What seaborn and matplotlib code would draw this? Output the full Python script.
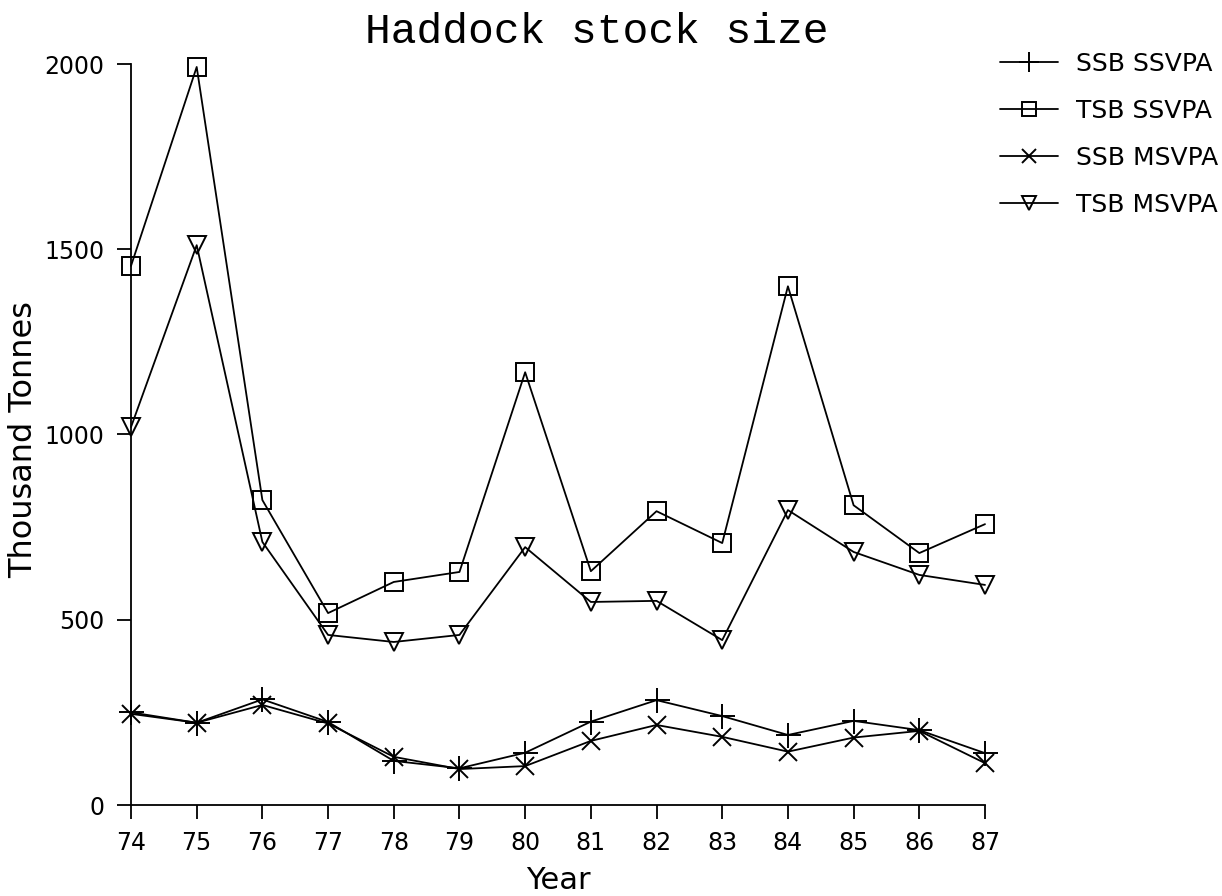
import matplotlib
matplotlib.use("Agg")
import matplotlib.pyplot as plt
import seaborn as sns
import pandas as pd

years = [74, 75, 76, 77, 78, 79, 80, 81, 82, 83, 84, 85, 86, 87]
ssb_ssvpa = [250, 222, 285, 224, 119, 99, 141, 225, 283, 240, 189, 227, 202, 140]
tsb_ssvpa = [1455, 1992, 823, 518, 602, 629, 1168, 631, 793, 707, 1400, 809, 680, 758]
ssb_msvpa = [246, 222, 270, 220, 130, 97, 105, 173, 216, 184, 144, 182, 200, 113]
tsb_msvpa = [1020, 1511, 710, 459, 440, 459, 696, 548, 551, 445, 796, 683, 621, 594]
series_labels = ["SSB SSVPA", "TSB SSVPA", "SSB MSVPA", "TSB MSVPA"]
yticks = [0, 500, 1000, 1500, 2000]

sns.set_style("ticks")
plt.rcParams['font.family'] = ['DejaVu Sans']
plt.rcParams['text.color'] = 'black'
plt.rcParams['axes.labelcolor'] = 'black'
plt.rcParams['xtick.color'] = 'black'
plt.rcParams['ytick.color'] = 'black'

fig = plt.figure(figsize=(12.22, 8.96), dpi=100)
ax = fig.add_axes([131/1222, 1-805/896, (985-131)/1222, (805-64)/896])

styles = [
    dict(marker="+", ms=18, mew=1.4),
    dict(marker="s", ms=13, mew=1.4),
    dict(marker="x", ms=13, mew=1.4),
    dict(marker="v", ms=13, mew=1.4),
]
for vals, lab, st in zip([ssb_ssvpa, tsb_ssvpa, ssb_msvpa, tsb_msvpa], series_labels, styles):
    df = pd.DataFrame({"Year": years, "Value": vals})
    sns.lineplot(data=df, x="Year", y="Value", ax=ax, color="black", lw=1.3,
                 marker=st["marker"], markersize=st["ms"], markeredgewidth=st["mew"],
                 markeredgecolor="black", markerfacecolor="none", label=lab,
                 clip_on=False)

ax.set_xlim(74, 87)
ax.set_ylim(0, 2000)
ax.set_xticks(years)
ax.set_xticklabels([str(y) for y in years])
ax.set_yticks(yticks)
ax.tick_params(axis="both", labelsize=17, length=10, width=1.3, direction="out", pad=9,
               color="black", labelcolor="black")
for s in ["left", "bottom"]:
    ax.spines[s].set_linewidth(1.3)
    ax.spines[s].set_color("black")
sns.despine(ax=ax)

ax.set_xlabel("")
ax.set_ylabel("")
fig.text(558/1222, 1-880/896, "Year", fontsize=22, ha="center", va="center", color="black")
fig.text(24/1222, 1-440/896, "Thousand Tonnes", fontsize=23, rotation=90,
         ha="center", va="center", color="black")

fig.text(597/1222, 1-43/896, "Haddock stock size", family="Liberation Mono", fontsize=31,
         ha="center", va="baseline", color="black")

handles, labels = ax.get_legend_handles_labels()
leg = ax.legend(handles, labels, loc="upper left", bbox_to_anchor=(1000/1222, 1-52/896),
                bbox_transform=fig.transFigure, frameon=False, fontsize=18,
                handlelength=2.3, handletextpad=0.75, labelspacing=0.92,
                borderaxespad=0, borderpad=0, markerscale=0.8)
for t in leg.get_texts():
    t.set_color("black")

fig.savefig("out.png", dpi=100, facecolor="white")
